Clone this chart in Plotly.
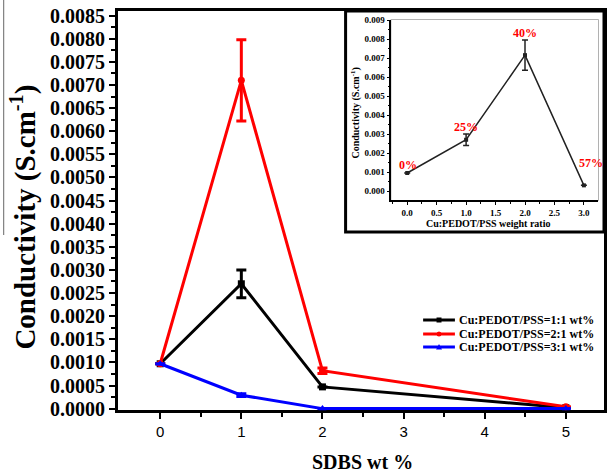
import plotly.graph_objects as go

# ---------------- data ----------------
sdbs = [0, 1, 2, 5]
names = ["Cu:PEDOT/PSS=1:1 wt%", "Cu:PEDOT/PSS=2:1 wt%", "Cu:PEDOT/PSS=3:1 wt%"]
cond_11 = [0.00097, 0.0027, 0.00047, 0.00002]
err_11 = [0, 0.0003, 0, 0]
cond_21 = [0.00097, 0.0071, 0.00082, 0.00004]
err_21 = [0, 0.00088, 0.00006, 0]
cond_31 = [0.00097, 0.00029, 0.0, 0.0]
err_31 = [0, 0.00003, 0, 0]

ratio = [0, 1, 2, 3]
cond_ratio = [0.00095, 0.0027, 0.00715, 0.0003]
err_ratio = [0, 0.0003, 0.0008, 0]
pct_labels = ["0%", "25%", "40%", "57%"]

x_ticks = [0, 1, 2, 3, 4, 5]

# ---------------- styles ----------------
W, H = 611, 473
L, R, T, B = 118, 4, 11, 63
pw, ph = W - L - R, H - T - B


def px(x):
    return (x - L) / pw


def py(y):
    return (H - B - y) / ph


SERIF = "Liberation Serif"
SANS = "Liberation Sans"
colors = ["#000000", "#ff0000", "#0000ff"]
symbols = ["square", "circle", "triangle-up"]

fig = go.Figure()

series = [(cond_11, err_11), (cond_21, err_21), (cond_31, err_31)]
for (ys, es), c, s, n in zip(series, colors, symbols, names):
    fig.add_trace(go.Scatter(
        x=sdbs, y=ys, name=n, mode="lines+markers",
        line=dict(color=c, width=3), marker=dict(color=c, symbol=s, size=7),
        error_y=dict(type="data", array=es, color=c, thickness=3, width=5),
        cliponaxis=False, showlegend=False, xaxis="x", yaxis="y"))

fig.add_trace(go.Scatter(
    x=ratio, y=cond_ratio, mode="lines+markers",
    line=dict(color="#222222", width=1.5),
    marker=dict(color="#222222", symbol="square", size=4),
    error_y=dict(type="data", array=err_ratio, color="#222222", thickness=1.5, width=3),
    cliponaxis=False, showlegend=False, xaxis="x2", yaxis="y2"))

shapes = []
annotations = []

# inset box (white panel with thick border)
shapes.append(dict(type="rect", xref="paper", yref="paper",
                   x0=px(347), x1=px(607), y0=py(232), y1=py(11),
                   line=dict(color="black", width=3), fillcolor="white", layer="below"))
# inset plot frame (grey top/right)
ix0, ix1, iy0, iy1 = px(393), px(601), py(200), py(20)
shapes.append(dict(type="rect", xref="paper", yref="paper",
                   x0=ix0, x1=ix1, y0=iy0, y1=iy1,
                   line=dict(color="#9a9a9a", width=1.5), layer="below"))
# stray scan line at left edge
shapes.append(dict(type="line", xref="paper", yref="paper",
                   x0=px(3), x1=px(3), y0=py(0), y1=py(235),
                   line=dict(color="#666666", width=1)))

# manual legend
leg_rows = [320, 334, 347]
for n, c, s, yy in zip(names, colors, symbols, leg_rows):
    shapes.append(dict(type="line", xref="paper", yref="paper",
                       x0=px(425), x1=px(457), y0=py(yy), y1=py(yy),
                       line=dict(color=c, width=3)))
    if s == "square":
        shapes.append(dict(type="rect", xref="paper", yref="paper",
                           x0=px(438.5), x1=px(443.5), y0=py(yy + 2.5), y1=py(yy - 2.5),
                           line=dict(width=0), fillcolor=c))
    elif s == "circle":
        shapes.append(dict(type="circle", xref="paper", yref="paper",
                           x0=px(438.5), x1=px(443.5), y0=py(yy + 2.5), y1=py(yy - 2.5),
                           line=dict(width=0), fillcolor=c))
    else:
        shapes.append(dict(type="path", xref="paper", yref="paper",
                           path=f"M {px(438)} {py(yy + 2.5)} L {px(444)} {py(yy + 2.5)} L {px(441)} {py(yy - 3)} Z",
                           line=dict(width=0), fillcolor=c))
    annotations.append(dict(xref="paper", yref="paper", x=px(459), y=py(yy),
                            text=n, showarrow=False, xanchor="left", yanchor="middle",
                            font=dict(family=SERIF, size=12, color="black", weight="bold")))

# axis titles
annotations.append(dict(xref="paper", yref="paper", x=px(22), y=py(217),
                        text="Conductivity (S.cm<sup>-1</sup>)", textangle=-90, showarrow=False,
                        xanchor="center", yanchor="middle",
                        font=dict(family=SERIF, size=29, color="black", weight="bold")))
annotations.append(dict(xref="paper", yref="paper", x=px(364), y=py(462),
                        text="SDBS wt %", showarrow=False, xanchor="center", yanchor="middle",
                        font=dict(family=SERIF, size=20, color="black", weight="bold")))
annotations.append(dict(xref="paper", yref="paper", x=px(356), y=py(113),
                        text="Conductivity (S.cm<sup>-1</sup>)", textangle=-90, showarrow=False,
                        xanchor="center", yanchor="middle",
                        font=dict(family=SERIF, size=10, color="black", weight="bold")))
annotations.append(dict(xref="paper", yref="paper", x=px(490), y=py(223),
                        text="Cu:PEDOT/PSS weight ratio", showarrow=False,
                        xanchor="center", yanchor="middle",
                        font=dict(family=SERIF, size=10, color="black", weight="bold")))

# percentage labels
pct_offsets = [0.0004, 0.00065, 0.00115, 0.00117]
pct_dx = [0.02, 0, 0, 0.12]
for xv, yv, t, o, dx in zip(ratio, cond_ratio, pct_labels, pct_offsets, pct_dx):
    annotations.append(dict(xref="x2", yref="y2", x=xv + dx, y=yv + o, text=t, showarrow=False,
                            xanchor="center", yanchor="middle",
                            font=dict(family=SERIF, size=12, color="#ff0000", weight="bold")))

fig.update_layout(
    width=W, height=H,
    margin=dict(l=L, r=R, t=T, b=B),
    paper_bgcolor="white", plot_bgcolor="white",
    showlegend=False,
    shapes=shapes, annotations=annotations,
    xaxis=dict(domain=[0, 1], range=[-0.52, 5.47], tickvals=x_ticks,
               ticktext=[str(v) for v in x_ticks],
               showline=True, linecolor="black", linewidth=3, mirror=True,
               ticks="outside", ticklen=6, tickwidth=2, tickcolor="black",
               minor=dict(tickvals=[v + 0.5 for v in x_ticks[:-1]], ticks="outside", ticklen=4,
                          tickwidth=2, tickcolor="black"),
               showgrid=False, zeroline=False, layer="below traces",
               tickfont=dict(family=SANS, size=15, color="black")),
    yaxis=dict(domain=[0, 1], range=[-0.00003, 0.0086], dtick=0.0005, tick0=0,
               tickformat=".4f",
               showline=True, linecolor="black", linewidth=3, mirror=True,
               ticks="outside", ticklen=6, tickwidth=2, tickcolor="black",
               minor=dict(dtick=0.00025, tick0=0, ticks="outside", ticklen=4, tickwidth=2, tickcolor="black"),
               showgrid=False, zeroline=False, layer="below traces",
               tickfont=dict(family=SERIF, size=20, color="black", weight="bold")),
    xaxis2=dict(domain=[ix0, ix1], anchor="y2", range=[-0.27, 3.24], dtick=0.5, tick0=0,
                tickformat=".1f",
                showline=True, linecolor="black", linewidth=1.5, mirror=False,
                ticks="outside", ticklen=3, tickwidth=1.2, tickcolor="black",
                minor=dict(dtick=0.25, tick0=0, ticks="outside", ticklen=2, tickwidth=1, tickcolor="black"),
                showgrid=False, zeroline=False,
                tickfont=dict(family=SERIF, size=9, color="black", weight="bold")),
    yaxis2=dict(domain=[iy0, iy1], anchor="x2", range=[-0.00047, 0.009], dtick=0.001, tick0=0,
                tickformat=".3f",
                showline=True, linecolor="black", linewidth=1.5, mirror=False,
                ticks="outside", ticklen=3, tickwidth=1.2, tickcolor="black",
                minor=dict(dtick=0.0005, tick0=0, ticks="outside", ticklen=2, tickwidth=1, tickcolor="black"),
                showgrid=False, zeroline=False,
                tickfont=dict(family=SERIF, size=9, color="black", weight="bold")),
)

fig.write_html("out.html", config={"displayModeBar": False},
               post_script="document.body.style.margin='0px';")
